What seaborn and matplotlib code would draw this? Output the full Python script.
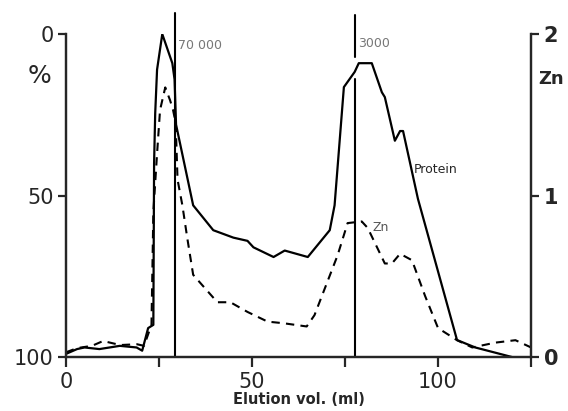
import numpy as np
import pandas as pd
import matplotlib
matplotlib.use('Agg')
from matplotlib import pyplot as plt
import seaborn as sns

# Protein (% scale, 0 at top)
prot_x = [0, 3, 5, 9, 14.5, 19, 20.5, 22.1, 23.5, 23.7, 24, 24.5, 25.9, 28.6, 29.2, 29.6,
          34.2, 39.6, 45, 48.8, 50.4, 55.8, 58.8, 65, 70.9, 72.2, 74.7, 77.6, 78.7, 82.2,
          84.9, 85.7, 88.4, 89.8, 90.6, 94.6, 105.1, 110, 120, 125]
prot_pct = [99, 97.5, 97, 97.5, 96.5, 97, 98, 91, 90, 40, 24.5, 11, 0, 9, 14, 28,
            53, 60.7, 63, 64, 66, 69, 67, 69, 60.7, 53, 16.4, 11.7, 9, 9,
            18, 19.5, 33, 30, 30, 51, 94.7, 97, 100, 100]

# Zn (right axis)
zn_x = [0, 3, 7, 10, 14.6, 19.1, 21, 23, 23.5, 24.5, 25.3, 26.7, 28, 28.8, 29.5, 30,
        31.3, 32.6, 34.2, 36.1, 40.7, 44.2, 48.8, 54.2, 58.5, 64.7, 66.8, 73, 75.7,
        79.5, 81.1, 85.7, 87.6, 89.8, 93, 96.5, 100, 105.1, 109.2, 115.4, 120.8, 125]
zn_val = [0.03, 0.056, 0.07, 0.1, 0.075, 0.08, 0.07, 0.2, 0.9, 1.26, 1.53, 1.67, 1.59, 1.53, 1.45, 1.1,
          0.94, 0.74, 0.51, 0.46, 0.34, 0.34, 0.28, 0.22, 0.21, 0.19, 0.26, 0.63, 0.83,
          0.84, 0.8, 0.58, 0.58, 0.64, 0.6, 0.38, 0.18, 0.105, 0.06, 0.09, 0.105, 0.06]

# molecular weight markers
marker_x = [29.2, 77.6]
marker_lab = ['70 000', '3000']

sns.set_style('ticks')
plt.rcParams['font.family'] = ['DejaVu Sans']

fig = plt.figure(figsize=(5.68, 4.11), dpi=100)
ax = fig.add_axes([0.116, 0.131, 0.819, 0.786])
ax2 = ax.twinx()

sns.lineplot(x=prot_x, y=prot_pct, ax=ax, color='black', linewidth=1.6, sort=False)
sns.lineplot(x=zn_x, y=zn_val, ax=ax2, color='black', linewidth=1.5, linestyle=(0, (4, 3)),
             sort=False)

ax.set_xlim(0, 125)
ax.set_ylim(100, 0)
ax2.set_ylim(0, 2)

ax.set_xticks([0, 25, 50, 75, 100, 125])
ax.set_xticklabels(['0', '', '50', '', '100', ''])
ax.set_yticks([0, 50, 100])
ax.set_yticklabels(['0', '50', '100'])
ax2.set_yticks([0, 1, 2])
ax2.set_yticklabels(['0', '1', '2'], fontweight='bold')

for a in (ax, ax2):
    a.spines['top'].set_visible(False)
    for s in a.spines.values():
        s.set_linewidth(1.6)
    a.tick_params(width=1.6, length=6, labelsize=15, pad=3)
ax.tick_params(axis='x', length=7, pad=4)

# vertical marker lines
ax.axvline(marker_x[0], ymin=0, ymax=1.065, color='black', lw=1.5, clip_on=False)
ax.axvline(marker_x[1], ymin=0, ymax=0.86, color='black', lw=1.5)
ax.axvline(marker_x[1], ymin=0.93, ymax=1.06, color='black', lw=1.5, clip_on=False)
ax.text(marker_x[0] + 0.8, 3.4, marker_lab[0], fontsize=9, color='#777777', va='center')
ax.text(marker_x[1] + 0.8, 2.8, marker_lab[1], fontsize=9, color='#777777', va='center')

ax.text(93.5, 42, 'Protein', fontsize=9, va='center')
ax.text(82.3, 60, 'Zn', fontsize=9, color='#555555', va='center')

ax.text(-7, 13, '%', fontsize=18, ha='center', va='center')
ax2.text(130.5, 1.72, 'Zn', fontsize=13, fontweight='bold', ha='center', va='center')

ax.set_xlabel('Elution vol. (ml)', fontsize=10.5, fontweight='bold', labelpad=0)
ax.set_ylabel('')
ax2.set_ylabel('')

fig.savefig('out.png', dpi=100)
